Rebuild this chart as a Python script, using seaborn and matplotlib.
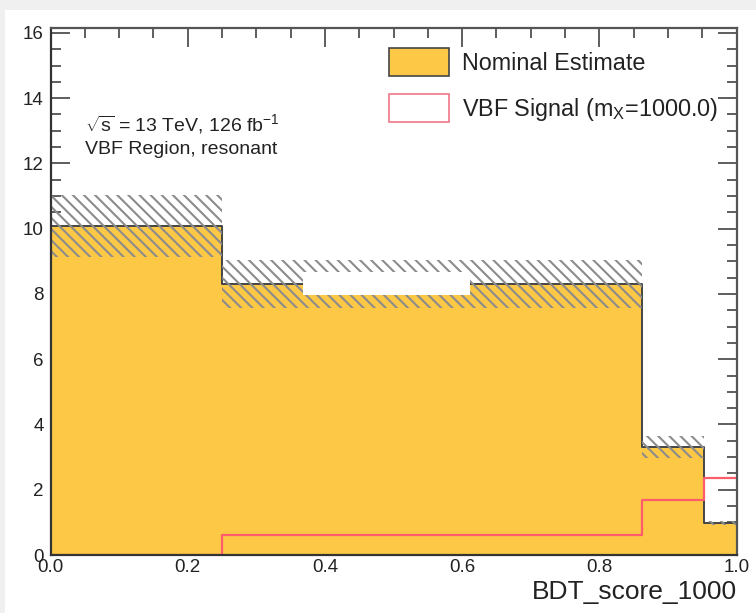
import matplotlib
matplotlib.use("Agg")
import matplotlib.pyplot as plt
import numpy as np
import pandas as pd
import seaborn as sns
from matplotlib.patches import Patch, Rectangle
from matplotlib.ticker import MultipleLocator, FormatStrFormatter

# Binned BDT score distribution
bin_edges = [0.0, 0.25, 0.862, 0.952, 1.0]
nominal = [10.08, 8.31, 3.3, 0.98]
nominal_err = [0.95, 0.74, 0.34, 0.06]
signal = [0.0, 0.61, 1.69, 2.37]

x_label = "BDT_score_1000"
legend_labels = ["Nominal Estimate", r"VBF Signal (m$_{\mathrm{X}}$=1000.0)"]
info_lines = [r"$\sqrt{\mathrm{s}}$ = 13 TeV, 126 fb$^{-1}$", "VBF Region, resonant"]

YELLOW = "#fcc846"
OUTLINE = "#454545"
SIGNAL = "#ff5c6c"
TEXT = "#222222"

sns.set_style("ticks")
plt.rcParams["font.family"] = ["Liberation Sans", "DejaVu Sans"]
plt.rcParams["mathtext.fontset"] = "custom"
plt.rcParams["mathtext.rm"] = "Liberation Sans"
plt.rcParams["mathtext.it"] = "Liberation Sans:italic"
plt.rcParams["hatch.linewidth"] = 1.5

edges = np.array(bin_edges)
widths = np.diff(edges)
df = pd.DataFrame({
    "score": 0.5 * (edges[:-1] + edges[1:]),
    "nominal": nominal,
    "err": nominal_err,
    "signal": signal,
})

fig = plt.figure(figsize=(7.56, 6.13), dpi=100, facecolor="#f0f0f0")
# white canvas inside the light grey border
fig.patches.append(Rectangle((5 / 756, 0), 1, 603 / 613, transform=fig.transFigure,
                             facecolor="white", edgecolor="none", zorder=-10))
ax = fig.add_axes([50.5 / 756, 58 / 613, 686 / 756, 527 / 613])

# Nominal estimate
sns.histplot(data=df, x="score", weights="nominal", bins=bin_edges, element="step", fill=True,
             color=YELLOW, alpha=1, edgecolor=OUTLINE, linewidth=1.4, ax=ax, zorder=1)

# Uncertainty band
ax.bar(edges[:-1], 2 * df["err"], bottom=df["nominal"] - df["err"], width=widths,
       align="edge", fill=False, hatch="\\\\\\", edgecolor="#8c8c8c", linewidth=0, zorder=2)

# Signal
sns.histplot(data=df, x="score", weights="signal", bins=bin_edges, element="step", fill=False,
             color=SIGNAL, linewidth=1.6, ax=ax, zorder=3)

# masked box
ax.add_patch(Rectangle((0.368, 0.493), 0.243, 0.044, transform=ax.transAxes,
                       facecolor="white", edgecolor="none", zorder=5))

ax.set_xlim(0, 1)
ax.set_ylim(0, 16.15)
ax.xaxis.set_major_locator(MultipleLocator(0.2))
ax.xaxis.set_minor_locator(MultipleLocator(0.05))
ax.yaxis.set_major_locator(MultipleLocator(2))
ax.yaxis.set_minor_locator(MultipleLocator(0.5))
ax.xaxis.set_major_formatter(FormatStrFormatter("%.1f"))
ax.tick_params(which="both", direction="in", top=True, right=True,
               color="#333333", labelcolor=TEXT, labelsize=13.5, width=1.1)
ax.tick_params(which="major", length=13.5)
ax.tick_params(which="minor", length=7)
ax.tick_params(axis="x", pad=3)
ax.tick_params(axis="y", pad=5)
for side, sp in ax.spines.items():
    sp.set_color("#555555" if side in ("top", "right") else "#333333")
    sp.set_linewidth(1.6)
    sp.set_zorder(6)

ax.set_ylabel("")
ax.set_xlabel(x_label, loc="right", fontsize=19, color=TEXT, labelpad=3)

ax.text(0.051, 0.818, info_lines[0], transform=ax.transAxes, fontsize=14,
        color=TEXT, va="center", ha="left")
ax.text(0.051, 0.769, info_lines[1], transform=ax.transAxes, fontsize=14,
        color=TEXT, va="center", ha="left")

handles = [Patch(facecolor=YELLOW, edgecolor=OUTLINE, linewidth=1.2),
           Patch(facecolor="white", edgecolor="#f07888", linewidth=1.2)]
ax.legend(handles, legend_labels, loc="upper left", bbox_to_anchor=(0.493, 0.962),
          frameon=False, fontsize=16.8, handlelength=2.6, handleheight=1.45,
          handletextpad=0.55, labelspacing=0.8, borderpad=0, borderaxespad=0,
          labelcolor=TEXT)

fig.savefig("out.png", dpi=100, facecolor=fig.get_facecolor())
